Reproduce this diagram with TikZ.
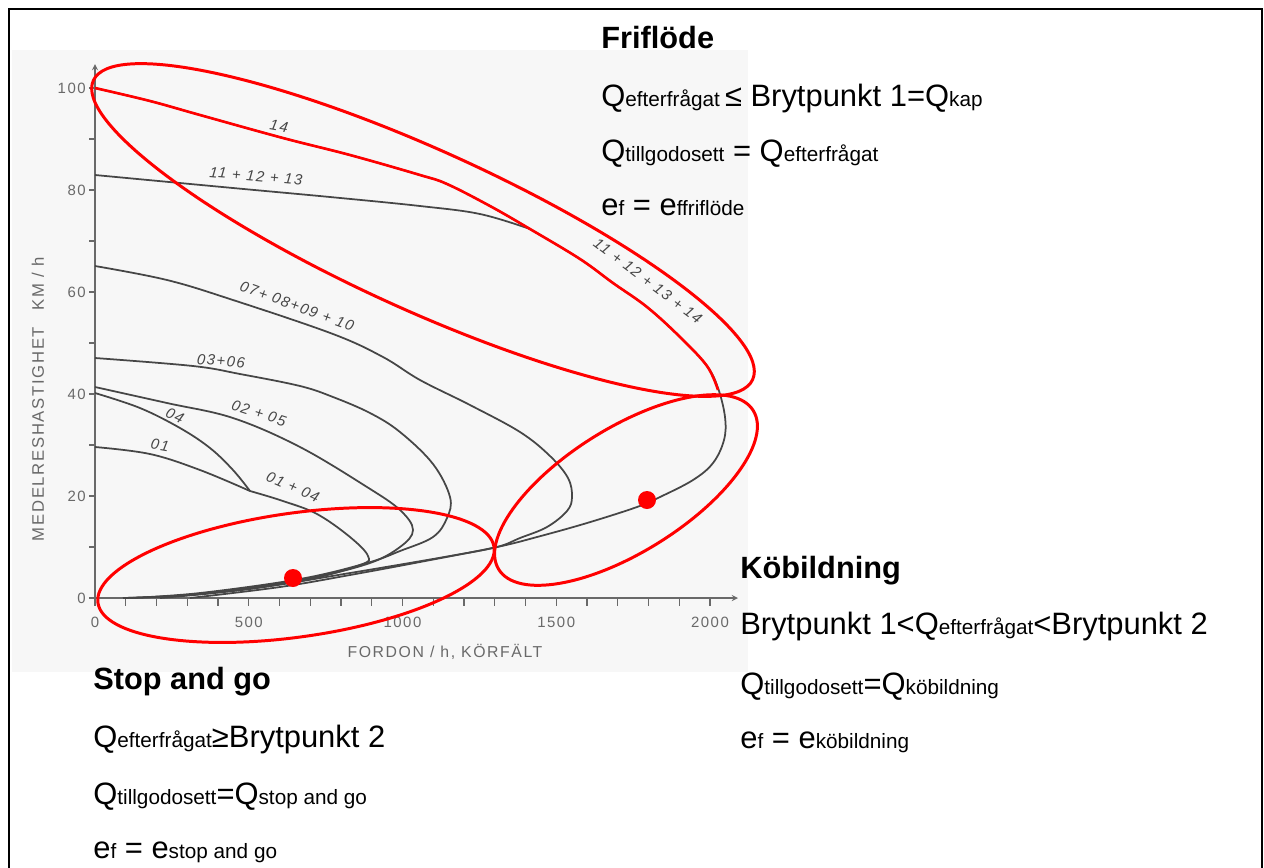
\documentclass[tikz,border=0pt]{standalone}
\usepackage{fontspec}
\setmainfont{Liberation Sans}
\newfontfamily\plotfont[LetterSpace=10]{Liberation Sans}
\usetikzlibrary{arrows,positioning}
\definecolor{scanbg}{RGB}{247,247,247}
\definecolor{scanink}{RGB}{70,70,70}
\definecolor{scantext}{RGB}{105,105,105}
\newcommand{\sm}[1]{{\fontsize{11.8}{13}\selectfont #1}}
\tikzstyle{heading} = [anchor=base west, inner sep=0pt, font=\bfseries\fontsize{17.5}{20}\selectfont]
\tikzstyle{eqline} = [anchor=base west, inner sep=0pt, font=\fontsize{17.6}{20}\selectfont]
\tikzstyle{axisline} = [draw=scantext, line width=0.6pt]
\tikzstyle{curve} = [draw=scanink, line width=1pt]
\tikzstyle{ticklabel} = [inner sep=0pt, text=scantext, font=\plotfont\fontsize{8.5}{9}\selectfont]
\tikzstyle{curvelabel} = [inner sep=0pt, text=scanink, font=\plotfont\itshape\fontsize{8.5}{9}\selectfont]
\tikzstyle{redring} = [draw=red, line width=1.7pt]
\tikzstyle{reddot} = [circle, fill=red, inner sep=0pt, minimum size=0.36cm]

\begin{document}
\begin{tikzpicture}[x=0.02cm, y=-0.02cm, >=stealth]
\useasboundingbox (0,0) rectangle (1264,867);

% frame and scanned plot area
\draw[line width=1.3pt] (9,9) rectangle (1262,890);
\fill[scanbg] (12,50) rectangle (748,672);

% axes
\coordinate (origin) at (95,598);
\coordinate (ytop) at (95,64);
\coordinate (xend) at (738,598);
\draw[axisline, ->] (origin) -- (ytop);
\draw[axisline, ->] (origin) -- (xend);
\foreach \v in {0,10,...,100}
  \draw[axisline] (95,{598-5.1*\v}) -- ++(-6,0);
\foreach \k in {0,...,20}
  \draw[axisline] ({95+30.75*\k},598) -- ++(0,8);
\foreach \v in {0,20,...,100}
  \node[ticklabel, anchor=east] (ylab\v) at (86,{598-5.1*\v}) {\v};
\foreach \q in {0,500,1000,1500,2000}
  \node[ticklabel] (xlab\q) at ({95+0.3075*\q},622) {\q};
\node[ticklabel, rotate=90, font=\plotfont\fontsize{9.5}{10}\selectfont] (yname) at (38,399) {MEDELRESHASTIGHET\quad KM / h};
\node[ticklabel, font=\plotfont\fontsize{9}{10}\selectfont] (xname) at (445,652) {FORDON / h, KÖRFÄLT};

% speed-flow curves
\draw[curve] plot[smooth, tension=0.6] coordinates {(95,88) (150,101) (200,115) (283,138) (350,155) (420,175) (447,184) (490,206) (530,229) (580,259) (613,283) (647,307) (680,337) (707,366) (718,388) (725,417) (724,440) (713,463) (693,480) (660,497) (637,507) (587,523) (537,537) (497,547) (420,562) (350,575) (280,587) (190,598)};
\draw[curve] plot[smooth, tension=0.6] coordinates {(95,175) (233,188) (330,197) (420,206) (480,214) (530,229)};
\draw[curve] plot[smooth, tension=0.6] coordinates {(95,266) (167,280) (233,300) (333,334) (383,357) (420,380) (470,405) (520,432) (550,456) (568,478) (572,497) (567,511) (547,527) (520,538) (497,547) (450,556) (350,573) (250,589) (160,598)};
\draw[curve] plot[smooth, tension=0.6] coordinates {(95,358) (193,366) (240,374) (300,386) (333,397) (370,413) (400,432) (433,464) (450,497) (447,518) (433,537) (400,551) (367,563) (300,579) (200,593) (130,598)};
\draw[curve] plot[smooth, tension=0.6] coordinates {(95,387) (167,403) (233,418) (300,447) (367,487) (400,510) (413,530) (400,547) (367,564) (300,580) (200,594) (123,598)};
\draw[curve] plot[smooth, tension=0.6] coordinates {(95,393) (140,408) (180,428) (210,448) (233,470) (250,491)};
\draw[curve] plot[smooth, tension=0.6] coordinates {(95,447) (150,454) (200,470) (250,491)};
\draw[curve] plot[smooth, tension=0.6] coordinates {(250,491) (283,501) (317,514) (350,537) (368,556) (360,565) (300,581) (200,594) (123,598)};

% curve labels
\node[curvelabel, rotate=-10] (lab14) at (279,126) {14};
\node[curvelabel, rotate=-5] (lab111213) at (256,176) {11 + 12 + 13};
\node[curvelabel, rotate=-37] (lab11to14) at (648,281) {11 + 12 + 13 + 14};
\node[curvelabel, rotate=-20] (lab07to10) at (297,306) {07+ 08+09 + 10};
\node[curvelabel, rotate=-5] (lab0306) at (221,361) {03+06};
\node[curvelabel, rotate=-18] (lab0205) at (259,413) {02 + 05};
\node[curvelabel, rotate=-25] (lab04) at (175,416) {04};
\node[curvelabel, rotate=-10] (lab01) at (160,445) {01};
\node[curvelabel, rotate=-24] (lab0104) at (293,487) {01 + 04};

% red markings
\draw[red, line width=1.5pt] plot[smooth, tension=0.6] coordinates {(95,88) (150,101) (200,115) (283,138) (350,155) (420,175) (447,184) (490,206) (530,229) (580,259) (613,283) (647,307) (680,337) (707,366) (718,390)};
\draw[redring, rotate around={-24.4:(423,230)}] (423,230) ellipse [x radius=362, y radius=80];
\draw[redring, rotate around={32:(626,490)}] (626,490) ellipse [x radius=150, y radius=62];
\draw[redring, rotate around={8:(296,575)}] (296,575) ellipse [x radius=200, y radius=62];
\node[reddot] (dotStop) at (293,578) {};
\node[reddot] (dotQueue) at (647,500) {};

% Friflöde
\node[heading] (friTitle) at (601,48) {Friflöde};
\node[eqline] (friA) at (601,106) {Q\sm{efterfrågat}\,≤ Brytpunkt 1=Q\sm{kap}};
\node[eqline] (friB) at (601,161) {Q\sm{tillgodosett} = Q\sm{efterfrågat}};
\node[eqline] (friC) at (601,215) {e\sm{f} = e\sm{ffriflöde}};

% Köbildning
\node[heading] (koTitle) at (740,578) {Köbildning};
\node[eqline] (koA) at (740,634) {Brytpunkt 1<Q\sm{efterfrågat}<Brytpunkt 2};
\node[eqline] (koB) at (740,694) {Q\sm{tillgodosett}=Q\sm{köbildning}};
\node[eqline] (koC) at (740,748) {e\sm{f} = e\sm{köbildning}};

% Stop and go
\node[heading] (sgTitle) at (93,689) {Stop and go};
\node[eqline] (sgA) at (93,747) {Q\sm{efterfrågat}≥Brytpunkt 2};
\node[eqline] (sgB) at (93,804) {Q\sm{tillgodosett}=Q\sm{stop and go}};
\node[eqline] (sgC) at (93,858) {e\sm{f} = e\sm{stop and go}};
\end{tikzpicture}
\end{document}
